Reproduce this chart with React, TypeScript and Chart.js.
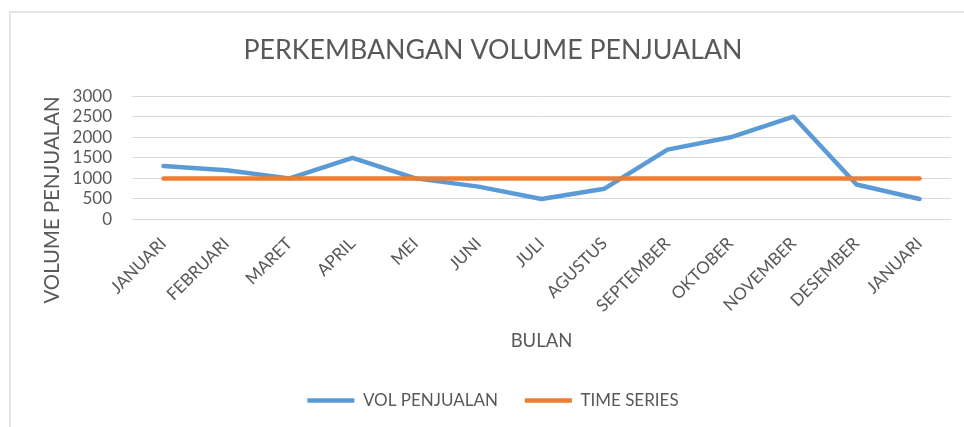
import React, { useEffect, useRef } from 'react';
import { Chart, registerables } from 'chart.js';

Chart.register(...registerables);

const months = ['JANUARI', 'FEBRUARI', 'MARET', 'APRIL', 'MEI', 'JUNI', 'JULI', 'AGUSTUS', 'SEPTEMBER', 'OKTOBER', 'NOVEMBER', 'DESEMBER', 'JANUARI'];
const volPenjualan = [1300, 1200, 1000, 1500, 1000, 800, 500, 750, 1700, 2000, 2500, 850, 500];
const timeSeries = [1000, 1000, 1000, 1000, 1000, 1000, 1000, 1000, 1000, 1000, 1000, 1000, 1000];
const yMin = 0;
const yMax = 3000;
const yStep = 500;
const yTitle = 'VOLUME PENJUALAN';

const TEXT = '#595959';
const FONT = 'Lato';

const yTitlePlugin = {
  id: 'yTitlePlugin',
  afterDraw(chart: any) {
    const { ctx } = chart;
    ctx.save();
    ctx.translate(52, 200);
    ctx.rotate(-Math.PI / 2);
    ctx.font = `20.4px ${FONT}`;
    ctx.fillStyle = TEXT;
    ctx.textAlign = 'center';
    ctx.textBaseline = 'middle';
    ctx.fillText(yTitle, 0, 0);
    ctx.restore();
  },
};

export default function App() {
  const ref = useRef<HTMLCanvasElement | null>(null);

  useEffect(() => {
    if (!ref.current) return;
    const chart = new Chart(ref.current, {
      type: 'line',
      data: {
        labels: months,
        datasets: [
          {
            label: 'VOL PENJUALAN',
            data: volPenjualan,
            borderColor: '#5B9BD5',
            backgroundColor: '#5B9BD5',
            borderWidth: 4.5,
            pointRadius: 0,
            tension: 0,
            borderCapStyle: 'round',
            borderJoinStyle: 'round',
            order: 1,
          },
          {
            label: 'TIME SERIES',
            data: timeSeries,
            borderColor: '#ED7D31',
            backgroundColor: '#ED7D31',
            borderWidth: 4.5,
            pointRadius: 0,
            tension: 0,
            borderCapStyle: 'round',
            borderJoinStyle: 'round',
            order: 0,
          },
        ],
      },
      plugins: [yTitlePlugin],
      options: {
        responsive: false,
        animation: false,
        devicePixelRatio: 1,
        layout: { padding: { top: 10, left: 35, right: 13, bottom: 8 } },
        plugins: {
          title: {
            display: true,
            text: 'PERKEMBANGAN VOLUME PENJUALAN',
            color: TEXT,
            font: { family: FONT, size: 26.8, weight: 'normal' },
            padding: { top: 24, bottom: 30 },
          },
          legend: {
            position: 'bottom',
            labels: {
              usePointStyle: true,
              pointStyle: 'line',
              pointStyleWidth: 47,
              color: TEXT,
              font: { family: FONT, size: 17 },
              padding: 27,
              sort: (a: any, b: any) => a.datasetIndex - b.datasetIndex,
            },
          },
          tooltip: { enabled: false },
        },
        scales: {
          x: {
            offset: true,
            grid: { display: false },
            border: { display: false },
            ticks: {
              color: TEXT,
              font: { family: FONT, size: 17 },
              maxRotation: 45,
              minRotation: 45,
              autoSkip: false,
              padding: 6,
            },
            title: {
              display: true,
              text: 'BULAN',
              color: TEXT,
              font: { family: FONT, size: 18.5 },
              padding: { top: 0, bottom: 13 },
            },
            afterFit: (s: any) => {
              s.height = 145.5;
            },
          },
          y: {
            min: yMin,
            max: yMax,
            ticks: {
              stepSize: yStep,
              autoSkip: false,
              color: TEXT,
              font: { family: FONT, size: 17 },
              padding: 20,
              callback: (v: any) => String(v),
            },
            grid: { color: '#D9D9D9', drawTicks: false, lineWidth: 1 },
            border: { display: false },
            afterFit: (s: any) => {
              s.width = 97;
            },
          },
        },
      },
    });
    return () => chart.destroy();
  }, []);

  return (
    <div style={{ position: 'fixed', left: 0, top: 0, width: 964, height: 427, overflow: 'hidden', background: '#fff' }}>
      <div
        style={{
          position: 'absolute',
          left: 9,
          top: 11,
          width: 1000,
          height: 500,
          border: '2px solid #E4E4E4',
          boxSizing: 'border-box',
        }}
      />
      <canvas ref={ref} width={964} height={427} style={{ position: 'absolute', left: 0, top: 0, width: 964, height: 427 }} />
    </div>
  );
}
